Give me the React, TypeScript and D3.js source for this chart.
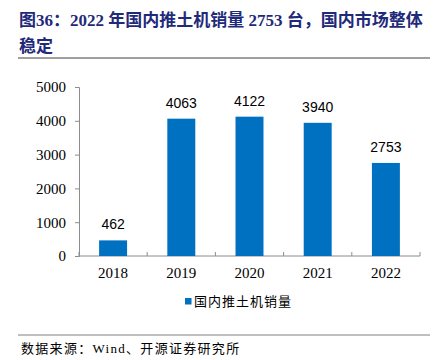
import React, { useEffect, useRef } from 'react';
import * as d3 from 'd3';

const years = ['2018', '2019', '2020', '2021', '2022'];
const sales = [462, 4063, 4122, 3940, 2753];
const yTicks = [0, 1000, 2000, 3000, 4000, 5000];
const seriesName = '国内推土机销量';

const serif = '"Times New Roman", "Liberation Serif", "Noto Sans CJK SC", serif';
const sans = 'Arial, "Liberation Sans", sans-serif';

function App() {
    const ref = useRef<SVGSVGElement>(null);

    useEffect(() => {
        const svg = d3.select(ref.current);
        svg.selectAll('*').remove();

        // title
        const title = svg.append('g')
            .attr('fill', '#1f2a7a')
            .attr('font-weight', 'bold')
            .attr('font-family', serif)
            .attr('font-size', '17px');
        title.append('text').attr('x', 19).attr('y', 26)
            .text('图36：2022 年国内推土机销量 2753 台，国内市场整体');
        title.append('text').attr('x', 19).attr('y', 52).text('稳定');

        svg.append('line')
            .attr('x1', 18).attr('x2', 430).attr('y1', 58).attr('y2', 58)
            .attr('stroke', '#808080').attr('stroke-width', 1.5);

        // plot area
        const left = 79, right = 420, top = 87, bottom = 256;

        const x = d3.scaleBand()
            .domain(years)
            .range([left, right])
            .paddingInner(0.59)
            .paddingOuter(0.295);

        const y = d3.scaleLinear()
            .domain([0, 5000])
            .range([bottom, top]);

        // y axis
        const yAxis = svg.append('g')
            .attr('transform', 'translate(' + left + ',0)')
            .call(d3.axisLeft(y).tickValues(yTicks).tickSize(4).tickPadding(9).tickFormat(d3.format('d')));
        yAxis.select('.domain').attr('stroke', '#8c8c8c');
        yAxis.selectAll('.tick line').attr('stroke', '#8c8c8c');
        yAxis.selectAll('text')
            .attr('font-family', serif)
            .attr('font-size', '15px')
            .attr('fill', '#000');

        // x axis, ticks between categories
        const step = x.step();
        const xAxisG = svg.append('g').attr('transform', 'translate(0,' + bottom + ')');
        xAxisG.append('line')
            .attr('x1', left).attr('x2', right)
            .attr('stroke', '#8c8c8c');
        xAxisG.selectAll('.sep')
            .data(d3.range(years.length + 1))
            .join('line')
            .attr('class', 'sep')
            .attr('x1', (i) => left + i * step).attr('x2', (i) => left + i * step)
            .attr('y1', 0).attr('y2', -4)
            .attr('stroke', '#8c8c8c');
        xAxisG.selectAll('.lab')
            .data(years)
            .join('text')
            .attr('class', 'lab')
            .attr('x', (d) => x(d)! + x.bandwidth() / 2)
            .attr('y', 22)
            .attr('text-anchor', 'middle')
            .attr('font-family', serif)
            .attr('font-size', '15px')
            .text((d) => d);

        // bars
        svg.selectAll('.bar')
            .data(sales)
            .join('rect')
            .attr('class', 'bar')
            .attr('x', (d, i) => x(years[i])!)
            .attr('y', (d) => y(d))
            .attr('width', x.bandwidth())
            .attr('height', (d) => bottom - y(d))
            .attr('fill', '#0070c0');

        // data labels
        svg.selectAll('.val')
            .data(sales)
            .join('text')
            .attr('class', 'val')
            .attr('x', (d, i) => x(years[i])! + x.bandwidth() / 2)
            .attr('y', (d) => y(d) - 11)
            .attr('text-anchor', 'middle')
            .attr('font-family', sans)
            .attr('font-size', '14px')
            .text((d) => d);

        // legend
        svg.append('rect')
            .attr('x', 185).attr('y', 298).attr('width', 6.5).attr('height', 6.5)
            .attr('fill', '#0070c0');
        svg.append('text')
            .attr('x', 194).attr('y', 306)
            .attr('font-family', serif)
            .attr('font-size', '13px')
            .attr('letter-spacing', '1px')
            .text(seriesName);

        // source
        svg.append('line')
            .attr('x1', 18).attr('x2', 430).attr('y1', 335).attr('y2', 335)
            .attr('stroke', '#808080').attr('stroke-width', 1);
        svg.append('text')
            .attr('x', 21).attr('y', 353)
            .attr('font-family', serif)
            .attr('font-size', '13px')
            .attr('letter-spacing', '1.3px')
            .text('数据来源：Wind、开源证券研究所');
    });

    return (
        <svg ref={ref} width={437} height={360}
            style={{ position: 'absolute', left: 0, top: 0, background: 'white' }}></svg>
    );
}

export default App;
